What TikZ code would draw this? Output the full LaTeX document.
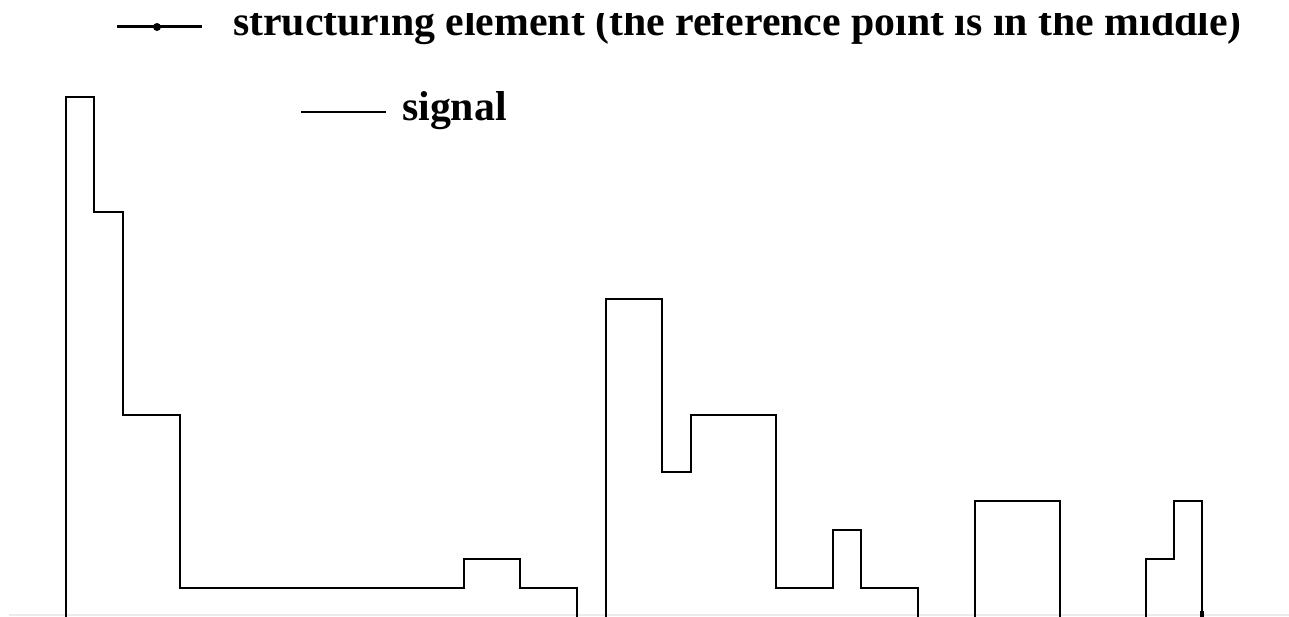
\documentclass[tikz,border=0pt]{standalone}
\usepackage{fontspec}
\setmainfont{Liberation Serif}
\begin{document}
\begin{tikzpicture}[x=1pt,y=-1pt,
  sig/.style={line width=2.1pt,line join=miter},
  legtext/.style={inner sep=0pt,anchor=base west,font=\fontsize{41.8}{42}\selectfont\bfseries},
  baseline/.style={line width=2pt,color=black!8}]
\useasboundingbox (0,0) rectangle (1289,617);
\begin{scope}
\clip (0,14) rectangle (1289,617);
% light base line
\coordinate (bl) at (9,615);
\coordinate (br) at (1289,615);
\draw[baseline] (bl) -- (br);
% legend
\coordinate (se1) at (117,27);
\coordinate (se2) at (202,27);
\draw[line width=3pt] (se1) -- (se2);
\node[circle,fill=black,inner sep=0pt,minimum size=8pt] (sedot) at (157,27) {};
\node[legtext] (setext) at (233,36) {structuring element (the reference point is in the middle)};
\coordinate (sg1) at (301,112);
\coordinate (sg2) at (386,112);
\draw[line width=1.6pt] (sg1) -- (sg2);
\node[legtext] (sgtext) at (402,121) {signal};
% signal
\draw[sig] (66,617) -- (66,96.7) -- (94.4,96.7) -- (94.4,212.3) -- (122.8,212.3) -- (122.8,414.6) -- (179.6,414.6) -- (179.6,588) -- (463.6,588) -- (463.6,559.1) -- (520.4,559.1) -- (520.4,588) -- (577.2,588) -- (577.2,617);
\draw[sig] (605.6,617) -- (605.6,299) -- (662.4,299) -- (662.4,472.4) -- (690.8,472.4) -- (690.8,414.6) -- (776,414.6) -- (776,588) -- (832.8,588) -- (832.8,530.2) -- (861.2,530.2) -- (861.2,588) -- (918,588) -- (918,617);
\draw[sig] (974.8,617) -- (974.8,501.3) -- (1060,501.3) -- (1060,617);
\draw[sig] (1145.6,617) -- (1145.6,559.1) -- (1174,559.1) -- (1174,501.3) -- (1202,501.3) -- (1202,617);
\coordinate (m1) at (1202,611);
\coordinate (m2) at (1202,617);
\draw[line width=3.5pt] (m1) -- (m2);
\end{scope}
\end{tikzpicture}
\end{document}
